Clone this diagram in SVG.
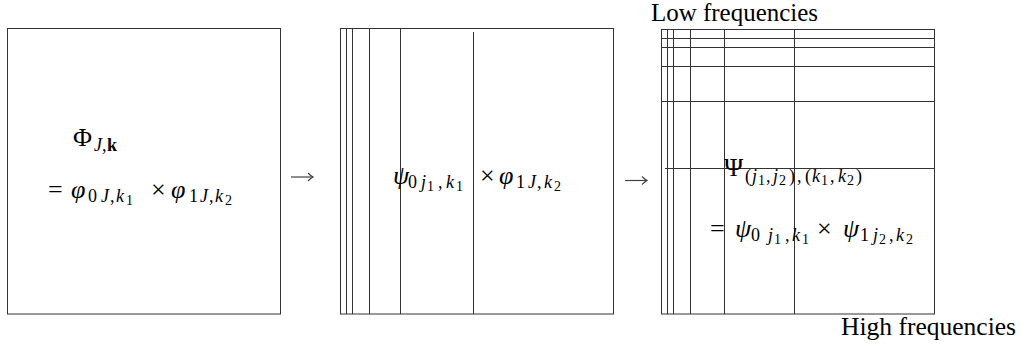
<svg xmlns="http://www.w3.org/2000/svg" width="1021" height="344" viewBox="0 0 1021 344">
<style>
.bx{fill:none;stroke:#333;stroke-width:1}
.ln{stroke:#333;stroke-width:1;fill:none}
.t{font-family:"Liberation Serif","Times New Roman",serif;font-size:26px;fill:#000}
.s{font-size:18px}
.ss{font-size:14px}
.i{font-style:italic}
.b{font-weight:bold}
.ar{stroke:#444;stroke-width:1.2;fill:none}
</style>
<defs>
<marker id="head" markerUnits="userSpaceOnUse" viewBox="-7 -5 8 10" refX="0" refY="0" markerWidth="8" markerHeight="10" orient="auto">
<path d="M-5,-4 Q-2,-1 0,0 Q-2,1 -5,4" fill="none" stroke="#444" stroke-width="1.2"/>
</marker>
</defs>

<g id="panel-scaling">
<rect class="bx" x="7.5" y="28.5" width="273" height="285.5"/>
<text class="t" x="73" y="146">Φ</text>
<text class="t s"><tspan class="i" x="94" y="151">J</tspan><tspan x="102" y="151">,</tspan><tspan class="b" x="107" y="151">k</tspan></text>
<text class="t" x="48" y="198">=</text>
<text class="t i" x="71" y="198">φ</text>
<text class="t s"><tspan x="88" y="202">0</tspan><tspan class="i" x="101" y="202">J</tspan><tspan x="110" y="202">,</tspan><tspan class="i" x="116" y="202">k</tspan></text>
<text class="t ss" x="126" y="205">1</text>
<text class="t" x="151" y="198">×</text>
<text class="t i" x="171" y="198">φ</text>
<text class="t s"><tspan x="189" y="202">1</tspan><tspan class="i" x="200" y="202">J</tspan><tspan x="209" y="202">,</tspan><tspan class="i" x="215" y="202">k</tspan></text>
<text class="t ss" x="225" y="205">2</text>
</g>

<g id="panel-columns">
<rect class="bx" x="340.5" y="28.5" width="273" height="285.5"/>
<path class="ln" d="M346.5,29 V314 M352.5,29 V314 M369.5,29 V314 M400.5,29 V314 M473.5,32 V314"/>
<text class="t i" x="393" y="184">ψ</text>
<text class="t s"><tspan x="408" y="188">0</tspan><tspan class="i" x="421" y="188">j</tspan></text>
<text class="t ss" x="427" y="191">1</text>
<text class="t s"><tspan x="438" y="188">,</tspan><tspan class="i" x="446" y="188">k</tspan></text>
<text class="t ss" x="456" y="191">1</text>
<text class="t" x="480" y="184">×</text>
<text class="t i" x="499" y="184">φ</text>
<text class="t s"><tspan x="516" y="188">1</tspan><tspan class="i" x="528" y="188">J</tspan><tspan x="537" y="188">,</tspan><tspan class="i" x="544" y="188">k</tspan></text>
<text class="t ss" x="554" y="191">2</text>
</g>

<g id="panel-grid">
<rect class="bx" x="661.5" y="29.5" width="273" height="284.5"/>
<path class="ln" d="M667.5,30 V314 M673.5,30 V314 M690.5,30 V314 M724.5,30 V314 M794.5,30 V314"/>
<path class="ln" d="M662,38.5 H934 M662,47.5 H934 M662,66.5 H934 M662,101.5 H934 M665,168.5 H934"/>
<text class="t" x="724" y="176">Ψ</text>
<text class="t s"><tspan x="745" y="182">(</tspan><tspan class="i" x="752" y="182">j</tspan></text>
<text class="t ss" x="758" y="185">1</text>
<text class="t s"><tspan x="766" y="182">,</tspan><tspan class="i" x="773" y="182">j</tspan></text>
<text class="t ss" x="779" y="185">2</text>
<text class="t s"><tspan x="789" y="182">)</tspan><tspan x="797" y="182">,</tspan><tspan x="805" y="182">(</tspan><tspan class="i" x="812" y="182">k</tspan></text>
<text class="t ss" x="821" y="185">1</text>
<text class="t s"><tspan x="830" y="182">,</tspan><tspan class="i" x="838" y="182">k</tspan></text>
<text class="t ss" x="847" y="185">2</text>
<text class="t s" x="856" y="182">)</text>
<text class="t" x="710" y="237">=</text>
<text class="t i" x="735" y="237">ψ</text>
<text class="t s"><tspan x="751" y="241">0</tspan><tspan class="i" x="768" y="241">j</tspan></text>
<text class="t ss" x="774" y="244">1</text>
<text class="t s"><tspan x="785" y="241">,</tspan><tspan class="i" x="792" y="241">k</tspan></text>
<text class="t ss" x="802" y="244">1</text>
<text class="t" x="817" y="237">×</text>
<text class="t i" x="843" y="237">ψ</text>
<text class="t s"><tspan x="860" y="241">1</tspan><tspan class="i" x="873" y="241">j</tspan></text>
<text class="t ss" x="879" y="244">2</text>
<text class="t s"><tspan x="889" y="241">,</tspan><tspan class="i" x="896" y="241">k</tspan></text>
<text class="t ss" x="906" y="244">2</text>
<text class="t" x="651" y="21" font-size="21" textLength="167" lengthAdjust="spacingAndGlyphs">Low frequencies</text>
<text class="t" x="841" y="335" font-size="23" textLength="175" lengthAdjust="spacingAndGlyphs">High frequencies</text>
</g>

<g id="connectors">
<path class="ar" d="M291,177 H313" marker-end="url(#head)"/>
<path class="ar" d="M625,180.5 H647" marker-end="url(#head)"/>
</g>
</svg>
